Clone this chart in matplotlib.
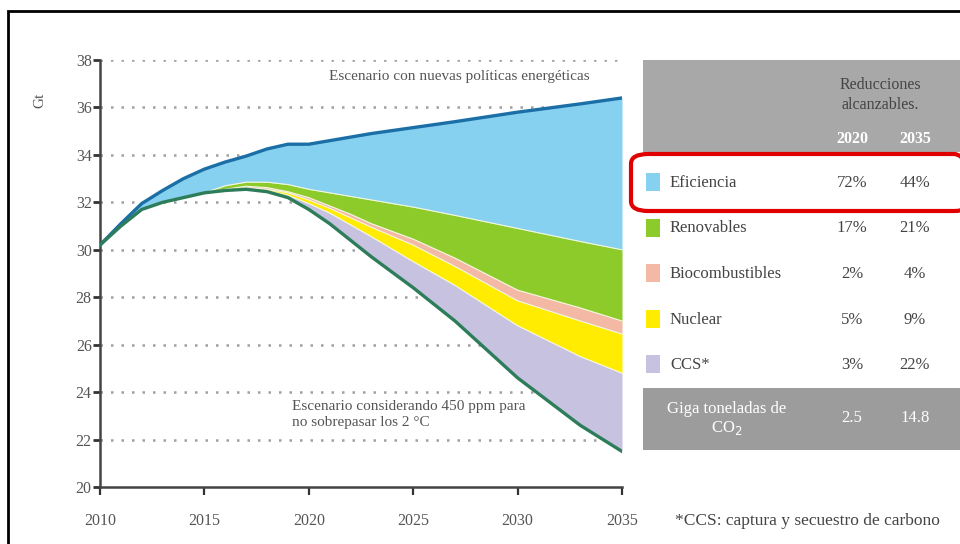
import numpy as np
import matplotlib.pyplot as plt
from matplotlib.patches import Rectangle, FancyBboxPatch

plt.rcParams['font.family'] = ['Liberation Serif', 'DejaVu Serif']

# datos (Gt CO2)
years = [2010, 2011, 2012, 2013, 2014, 2015, 2016, 2017, 2018, 2019, 2020,
         2021, 2022, 2023, 2025, 2027, 2030, 2033, 2035]
nuevas_politicas = [30.2, 31.1, 31.95, 32.5, 33.0, 33.4, 33.7, 33.95, 34.25, 34.45, 34.45,
                    34.6, 34.75, 34.9, 35.15, 35.4, 35.8, 36.15, 36.4]
eficiencia_base = [30.2, 31.0, 31.7, 32.0, 32.2, 32.4, 32.7, 32.85, 32.85, 32.75, 32.55,
                   32.4, 32.25, 32.1, 31.8, 31.45, 30.9, 30.35, 30.0]
renovables_base = [30.2, 31.0, 31.7, 32.0, 32.2, 32.4, 32.55, 32.68, 32.62, 32.45, 32.2,
                   31.85, 31.5, 31.1, 30.45, 29.65, 28.3, 27.55, 27.0]
biocomb_base = [30.2, 31.0, 31.7, 32.0, 32.2, 32.4, 32.5, 32.62, 32.55, 32.4, 32.1,
                31.75, 31.35, 30.95, 30.2, 29.3, 27.85, 27.0, 26.45]
nuclear_base = [30.2, 31.0, 31.7, 32.0, 32.2, 32.4, 32.5, 32.58, 32.5, 32.3, 31.95,
                31.55, 31.05, 30.55, 29.5, 28.5, 26.8, 25.5, 24.8]
escenario_450 = [30.2, 31.0, 31.7, 32.0, 32.2, 32.4, 32.5, 32.55, 32.45, 32.2, 31.7,
                 31.1, 30.4, 29.7, 28.4, 27.0, 24.6, 22.6, 21.5]

categorias = ['Eficiencia', 'Renovables', 'Biocombustibles', 'Nuclear', 'CCS*']
colores = ['#86D0F0', '#8CCB2A', '#F3B9A5', '#FFEC00', '#C6C2E0']
red_2020 = ['72%', '17%', '2%', '5%', '3%']
red_2035 = ['44%', '21%', '4%', '9%', '22%']
gt_2020 = '2.5'
gt_2035 = '14.8'

fig = plt.figure(figsize=(9.6, 5.44), dpi=100)
ax = fig.add_axes([100 / 960, 1 - 487 / 544, 522 / 960, 427 / 544])

bandas = [nuevas_politicas, eficiencia_base, renovables_base, biocomb_base,
          nuclear_base, escenario_450]
for i, col in enumerate(colores):
    ax.fill_between(years, bandas[i], bandas[i + 1], color=col, lw=0, zorder=2)
for b in bandas[1:5]:
    ax.plot(years, b, color='#F4F8E0', lw=0.8, zorder=3)

ax.plot(years, nuevas_politicas, color='#1B6FA6', lw=2.4, zorder=4)
ax.plot(years, escenario_450, color='#2D7D5A', lw=2.4, zorder=4)

ax.set_xlim(2010, 2035)
ax.set_ylim(20, 38)
yt = np.arange(20, 39, 2)
ax.set_yticks(yt)
ax.set_xticks(np.arange(2010, 2036, 5))
ax.hlines(yt[1:], 2010, 2035, colors='#A0A0A0', lw=1.8,
          linestyles=(0, (1, 3.2)), zorder=1)

for s in ['top', 'right']:
    ax.spines[s].set_visible(False)
for s in ['left', 'bottom']:
    ax.spines[s].set_color('#444444')
    ax.spines[s].set_linewidth(1.8)
ax.tick_params(axis='y', direction='out', length=5, width=2, color='#333333',
               labelsize=11.5, labelcolor='#555555', pad=1)
ax.tick_params(axis='x', direction='out', length=6, width=1.6, color='#333333',
               labelsize=11.5, labelcolor='#555555', pad=13)

ax.text(2027.2, 37.3, 'Escenario con nuevas políticas energéticas', ha='center',
        va='center', fontsize=11, color='#555555')
ax.text(2019.2, 23.05, 'Escenario considerando 450 ppm para\nno sobrepasar los 2 °C',
        ha='left', va='center', fontsize=11, color='#555555', linespacing=1.35)

fig.text(40 / 960, 1 - 100 / 544, 'Gt', rotation=90, ha='center', va='center',
         fontsize=11, color='#555555')

# marco negro
fig.patches.append(Rectangle((8 / 960, -0.05), 1.1, 1 - 11 / 544 + 0.05,
                             transform=fig.transFigure, fill=False,
                             ec='black', lw=2, zorder=0))

# tabla
fig.patches.append(Rectangle((643 / 960, 1 - 152 / 544), 320 / 960, 92 / 544,
                             transform=fig.transFigure, fc='#A8A8A8', ec='none'))
fig.patches.append(Rectangle((643 / 960, 1 - 450 / 544), 320 / 960, 62 / 544,
                             transform=fig.transFigure, fc='#9C9C9C', ec='none'))
fig.text(880 / 960, 1 - 95 / 544, 'Reducciones\nalcanzables.', ha='center',
         va='center', fontsize=11.5, color='#444444', linespacing=1.3)
fig.text(852 / 960, 1 - 139 / 544, '2020', ha='center', va='center',
         fontsize=11.5, color='white', fontweight='bold')
fig.text(915 / 960, 1 - 139 / 544, '2035', ha='center', va='center',
         fontsize=11.5, color='white', fontweight='bold')

for i, cat in enumerate(categorias):
    y = 1 - (183 + i * 45.5) / 544
    fig.patches.append(Rectangle((646 / 960, y - 8 / 544), 14 / 960, 18 / 544,
                                 transform=fig.transFigure, fc=colores[i], ec='none'))
    fig.text(670 / 960, y, cat, ha='left', va='center', fontsize=12, color='#444444')
    fig.text(852 / 960, y, red_2020[i], ha='center', va='center', fontsize=12,
             color='#444444')
    fig.text(915 / 960, y, red_2035[i], ha='center', va='center', fontsize=12,
             color='#444444')

fig.text(727 / 960, 1 - 419 / 544, 'Giga toneladas de\nCO$_2$', ha='center',
         va='center', fontsize=12, color='white', linespacing=1.1)
fig.text(852 / 960, 1 - 418 / 544, gt_2020, ha='center', va='center',
         fontsize=12, color='white')
fig.text(915 / 960, 1 - 418 / 544, gt_2035, ha='center', va='center',
         fontsize=12, color='white')

# recuadro rojo
fig.patches.append(FancyBboxPatch((631 / 960, 1 - 211 / 544), 340 / 960, 57 / 544,
                                  boxstyle='round,pad=0,rounding_size=0.018',
                                  transform=fig.transFigure, fill=False,
                                  ec='#E00000', lw=3))

fig.text(675 / 960, 1 - 521 / 544, '*CCS: captura y secuestro de carbono',
         ha='left', va='center', fontsize=12.5, color='#444444')

fig.savefig('out.png', dpi=100)
